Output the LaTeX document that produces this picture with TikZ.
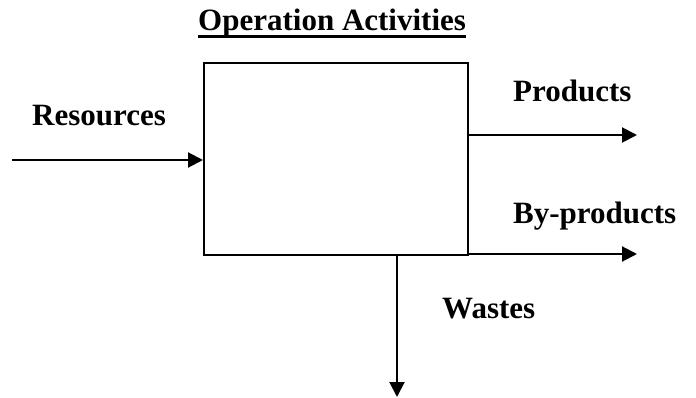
\documentclass[tikz,border=0pt]{standalone}
\usepackage{fontspec}
\setmainfont{Liberation Serif}
\usetikzlibrary{arrows.meta}
\begin{document}
\begin{tikzpicture}[x=1pt,y=-1pt,
  lbl/.style={font=\fontsize{31}{34}\selectfont\bfseries, anchor=base west, inner sep=0pt},
  arr/.style={line width=2pt, -{Triangle[length=15pt,width=15pt]}},
  boxst/.style={draw, line width=2pt, minimum width=264pt, minimum height=192pt, inner sep=0pt}]
\useasboundingbox (0,0) rectangle (696,398);
\node[lbl] (title) at (198,31) {Operation Activities};
\draw[line width=3pt] ([yshift=-6pt]title.base west) -- ([yshift=-6pt]title.base east);
\node[boxst] (box) at (336,159) {};
\node[lbl] (res) at (32,126) {Resources};
\node[lbl] (prod) at (513,102) {Products};
\node[lbl] (byp) at (513,224) {By-products};
\node[lbl] (waste) at (442,318) {Wastes};
\coordinate (inS) at (12,160);
\coordinate (prodE) at (637,135);
\coordinate (bypE) at (637,254);
\coordinate (wasteE) at (397,397);
\draw[arr] (inS) -- (inS -| box.west);
\draw[arr] (prodE -| box.east) -- (prodE);
\draw[arr] (bypE -| box.east) -- (bypE);
\draw[arr] (wasteE |- box.south) -- (wasteE);
\end{tikzpicture}
\end{document}
